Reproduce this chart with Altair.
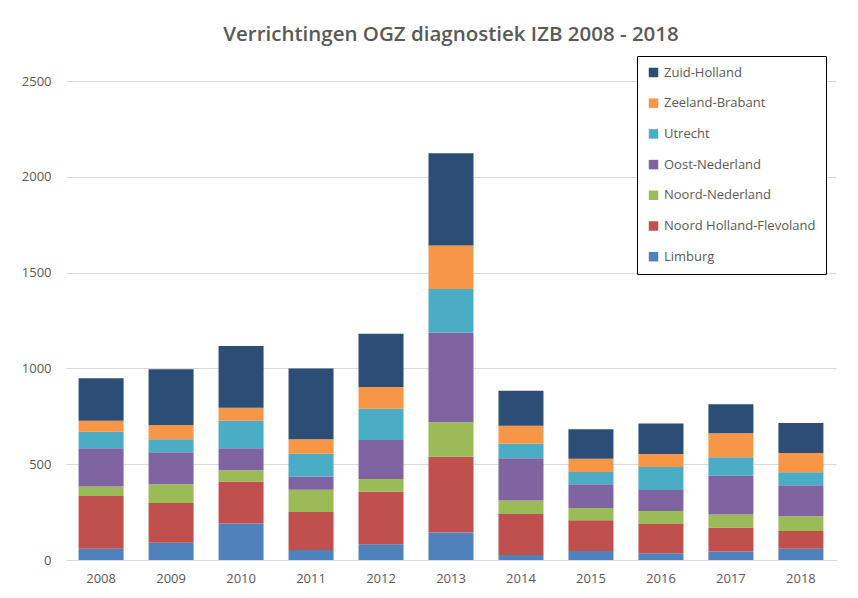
import altair as alt
import pandas as pd

years = ["2008", "2009", "2010", "2011", "2012", "2013", "2014", "2015", "2016", "2017", "2018"]

limburg = [59, 90, 190, 52, 82, 143, 26, 47, 35, 44, 59]
noord_holland_flevoland = [275, 208, 220, 199, 275, 396, 214, 160, 153, 125, 92]
noord_nederland = [49, 98, 59, 116, 66, 180, 70, 64, 68, 69, 77]
oost_nederland = [200, 166, 114, 67, 203, 469, 221, 124, 109, 202, 162]
utrecht = [87, 68, 144, 121, 164, 227, 76, 64, 120, 96, 68]
zeeland_brabant = [57, 74, 67, 75, 113, 226, 94, 70, 68, 125, 101]
zuid_holland = [221, 291, 323, 370, 278, 482, 183, 153, 160, 152, 156]

series_names = ["Limburg", "Noord Holland-Flevoland", "Noord-Nederland", "Oost-Nederland",
                "Utrecht", "Zeeland-Brabant", "Zuid-Holland"]
series_values = [limburg, noord_holland_flevoland, noord_nederland, oost_nederland,
                 utrecht, zeeland_brabant, zuid_holland]
series_colors = ["#4F81BD", "#C0504D", "#9BBB59", "#8064A2", "#4BACC6", "#F79646", "#2C4D75"]

rows = []
for rank, (name, vals) in enumerate(zip(series_names, series_values)):
    for yr, v in zip(years, vals):
        rows.append({"Jaar": yr, "Regio": name, "Aantal": v, "rank": rank})
df = pd.DataFrame(rows)

legend_domain = list(reversed(series_names))
legend_colors = list(reversed(series_colors))

FONT = "Open Sans"
GREY = "#595959"

chart = alt.Chart(df).mark_bar().encode(
    x=alt.X("Jaar:N", sort=years, title=None,
            scale=alt.Scale(paddingInner=0.357, paddingOuter=0.18),
            axis=alt.Axis(labelAngle=0, ticks=False, domainColor="#D9D9D9", grid=False,
                          labelFontSize=13, labelColor=GREY, labelPadding=12, labelFont=FONT)),
    y=alt.Y("Aantal:Q", stack="zero", title=None,
            scale=alt.Scale(domain=[0, 2500], nice=False),
            axis=alt.Axis(values=[0, 500, 1000, 1500, 2000, 2500], ticks=False, domain=False,
                          format="d", gridColor="#D9D9D9", labelFontSize=13, labelColor=GREY,
                          labelPadding=15, labelFont=FONT)),
    color=alt.Color("Regio:N", scale=alt.Scale(domain=legend_domain, range=legend_colors),
                    legend=alt.Legend(title=None, orient="none", legendX=571, legendY=-25,
                                      symbolType="square", symbolSize=90, symbolStrokeWidth=0,
                                      labelFontSize=13, labelColor=GREY, labelFont=FONT,
                                      rowPadding=16.7, padding=10, strokeColor="black",
                                      fillColor="white", labelLimit=300)),
    order=alt.Order("rank:Q", sort="ascending"),
).properties(
    width=770,
    height=479,
    title=alt.TitleParams("Verrichtingen OGZ diagnostiek IZB 2008 - 2018", fontSize=20.5,
                          font=FONT, fontWeight=600, color=GREY, offset=10, anchor="middle"),
    autosize=alt.AutoSizeParams(type="none"),
    padding={"left": 58, "top": 73, "right": 14, "bottom": 30},
).configure(background="white").configure_view(stroke=None)

chart.save("out.html", embed_options={"renderer": "svg", "actions": False})
